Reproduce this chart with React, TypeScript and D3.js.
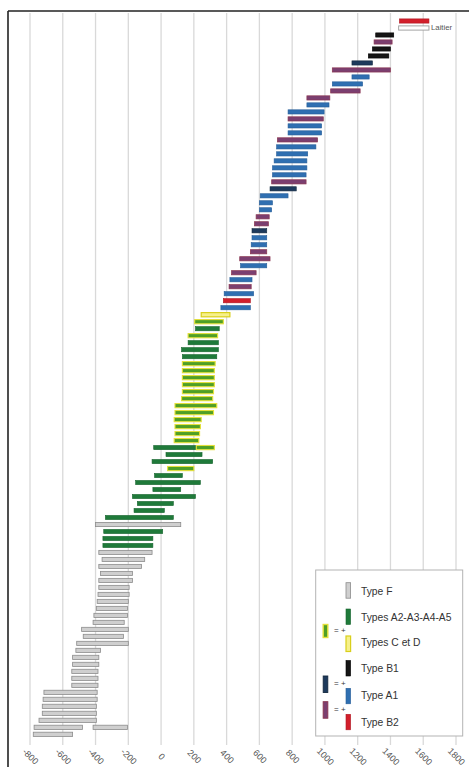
import React from "react";
import * as d3 from "d3";

const W = 469;
const H = 767;

// Row-by-row data (top to bottom): type code, start year, end year
const rowTypes = [
  "B2", "L", "B1", "P", "B1", "B1", "N", "P", "A1", "A1",
  "P", "P", "A1", "A1", "P", "A1", "A1", "P", "A1", "A1",
  "A1", "A1", "A1", "P", "N", "A1", "A1", "A1", "P", "P",
  "N", "A1", "A1", "P", "P", "A1", "P", "A1", "P", "A1",
  "B2", "A1", "Y", "YG", "G", "YG", "G", "G", "G", "YG",
  "YG", "YG", "YG", "YG", "YG", "YG", "YG", "YG", "YG", "YG",
  "YG", "G", "G", "G", "YG", "G", "G", "G", "G", "G",
  "G", "G", "F", "G", "G", "G", "F", "F", "F", "F",
  "F", "F", "F", "F", "F", "F", "F", "F", "F", "F",
  "F", "F", "F", "F", "F", "F", "F", "F", "F", "F",
  "F", "F", "F",
];
const rowStarts = [
  1455, 1450, 1310, 1300, 1290, 1265, 1165, 1045, 1165, 1045,
  1035, 890, 890, 775, 775, 775, 775, 710, 705, 705,
  690, 680, 680, 675, 665, 605, 600, 600, 580, 570,
  555, 555, 550, 545, 480, 485, 430, 420, 415, 385,
  380, 365, 245, 205, 210, 165, 165, 125, 130, 130,
  130, 130, 130, 130, 125, 85, 85, 80, 85, 85,
  80, -45, 30, -55, 40, -40, -155, -50, -175, -145,
  -165, -340, -400, -350, -355, -355, -380, -360, -380, -370,
  -380, -380, -385, -390, -395, -410, -415, -485, -475, -515,
  -520, -540, -540, -545, -545, -545, -715, -720, -725, -725,
  -745, -775, -780,
];
const rowEnds = [
  1635, 1635, 1420, 1410, 1400, 1390, 1290, 1400, 1270, 1230,
  1215, 1030, 1025, 995, 990, 980, 980, 955, 945, 895,
  890, 890, 885, 885, 825, 775, 680, 675, 660, 655,
  645, 645, 645, 645, 665, 645, 580, 555, 550, 565,
  545, 545, 420, 380, 355, 345, 350, 350, 340, 330,
  325, 325, 325, 320, 315, 340, 320, 245, 240, 235,
  230, 215, 250, 315, 200, 130, 240, 120, 210, 75,
  20, 75, 120, 10, -50, -50, -55, -100, -120, -175,
  -175, -195, -195, -200, -205, -205, -225, -200, -230, -200,
  -370, -380, -380, -385, -385, -385, -390, -390, -395, -395,
  -395, -480, -540,
];

// Second segments on a few rows
const extraRowIdx = [61, 101];
const extraTypes = ["YG", "F"];
const extraStarts = [215, -415];
const extraEnds = [325, -205];

const tickValues = [-800, -600, -400, -200, 0, 200, 400, 600, 800, 1000, 1200, 1400, 1600, 1800];
const tickLabels = ["-800", "-600", "-400", "-200", "0", "200", "400", "600", "800", "1000", "1200", "1400", "1600", "1800"];

const legendTypes = ["F", "G", "Y", "B1", "A1", "B2"];
const legendLabels = ["Type F", "Types A2-A3-A4-A5", "Types C et D", "Type B1", "Type A1", "Type B2"];
const comboTypes = ["YG", "N", "P"];
const laitierLabel = "Laitier";

const styles: Record<string, { fill: string; stroke: string; sw: number }> = {
  F: { fill: "#cfcfcf", stroke: "#8c8c8c", sw: 0.8 },
  L: { fill: "#ffffff", stroke: "#9a9a9a", sw: 0.9 },
  G: { fill: "#1f7a3a", stroke: "#1a6630", sw: 0.6 },
  Y: { fill: "#f6f08a", stroke: "#d9cf1c", sw: 1.2 },
  YG: { fill: "#4f9f26", stroke: "#e4e03a", sw: 1.1 },
  B1: { fill: "#151515", stroke: "#000000", sw: 0.6 },
  A1: { fill: "#2f6fb1", stroke: "#275e98", sw: 0.6 },
  N: { fill: "#1d3a5c", stroke: "#14293f", sw: 0.6 },
  P: { fill: "#7b3f70", stroke: "#8a3550", sw: 0.7 },
  B2: { fill: "#d21f2b", stroke: "#b01822", sw: 0.6 },
};

const FONT = "'Liberation Sans', Arial, sans-serif";

export default function App() {
  const x = d3.scaleLinear().domain([-800, 1800]).range([30, 456]);
  const y = d3
    .scalePoint<number>()
    .domain(d3.range(rowTypes.length))
    .range([21, 734.3]);
  const barH = 4.2;

  const legendX = 315.7;
  const legendY = 570;
  const swatchY = [582.7, 609, 636, 660.5, 688.3, 714.3];
  const textY = [592.7, 618.3, 643.3, 669.3, 696.7, 723.3];
  const comboY = [624.5, 676, 701.7];
  const comboH = [13, 16.5, 16.5];
  const eqY = [631, 684, 710];

  const bar = (key: string, i: number, t: string, s: number, e: number) => {
    const st = styles[t];
    return (
      <rect
        key={key}
        x={x(s)}
        y={(y(i) as number) - barH / 2}
        width={x(e) - x(s)}
        height={barH}
        fill={st.fill}
        stroke={st.stroke}
        strokeWidth={st.sw}
      />
    );
  };

  return (
    <svg
      width={W}
      height={H}
      style={{ position: "absolute", left: 0, top: 0, background: "#fff" }}
      fontFamily={FONT}
    >
      <rect x={0} y={0} width={W} height={H} fill="#fff" />
      {/* gridlines */}
      {tickValues.map((v) => (
        <line
          key={"g" + v}
          x1={x(v)}
          x2={x(v)}
          y1={13}
          y2={745}
          stroke="#d9d9d9"
          strokeWidth={1.3}
        />
      ))}
      {/* frame */}
      <line x1={8} x2={W} y1={11} y2={11} stroke="#222" strokeWidth={1.6} />
      <line x1={8} x2={8} y1={11} y2={H} stroke="#222" strokeWidth={1.6} />

      {/* bars */}
      {rowTypes.map((t, i) => bar("b" + i, i, t, rowStarts[i], rowEnds[i]))}
      {extraRowIdx.map((r, k) => bar("e" + k, r, extraTypes[k], extraStarts[k], extraEnds[k]))}

      <text
        x={x(rowEnds[1]) + 2}
        y={(y(1) as number) + 0.3}
        fontSize={7.8}
        fill="#555"
        dominantBaseline="middle"
      >
        {laitierLabel}
      </text>

      {/* tick labels */}
      {tickValues.map((v, i) => (
        <text
          key={"t" + v}
          transform={`translate(${x(v)},757) rotate(45)`}
          textAnchor="middle"
          dominantBaseline="middle"
          fontSize={9}
          fill="#555"
        >
          {tickLabels[i]}
        </text>
      ))}

      {/* legend */}
      <rect
        x={legendX}
        y={legendY}
        width={147}
        height={166}
        fill="#fff"
        stroke="#b3b3b3"
        strokeWidth={1}
      />
      {legendTypes.map((t, i) => {
        const st = styles[t];
        return (
          <g key={"l" + t}>
            <rect
              x={346}
              y={swatchY[i]}
              width={4.6}
              height={15.5}
              fill={st.fill}
              stroke={st.stroke}
              strokeWidth={st.sw}
            />
            <text
              x={361}
              y={textY[i]}
              fontSize={10.3}
              fill="#333"
              dominantBaseline="middle"
            >
              {legendLabels[i]}
            </text>
          </g>
        );
      })}
      {comboTypes.map((t, i) => {
        const st = styles[t];
        return (
          <g key={"c" + t}>
            <rect
              x={323.2}
              y={comboY[i]}
              width={4.6}
              height={comboH[i]}
              fill={st.fill}
              stroke={st.stroke}
              strokeWidth={st.sw + 0.3}
            />
            <text x={334} y={eqY[i]} fontSize={8} fill="#333" dominantBaseline="middle">
              = +
            </text>
          </g>
        );
      })}
    </svg>
  );
}
